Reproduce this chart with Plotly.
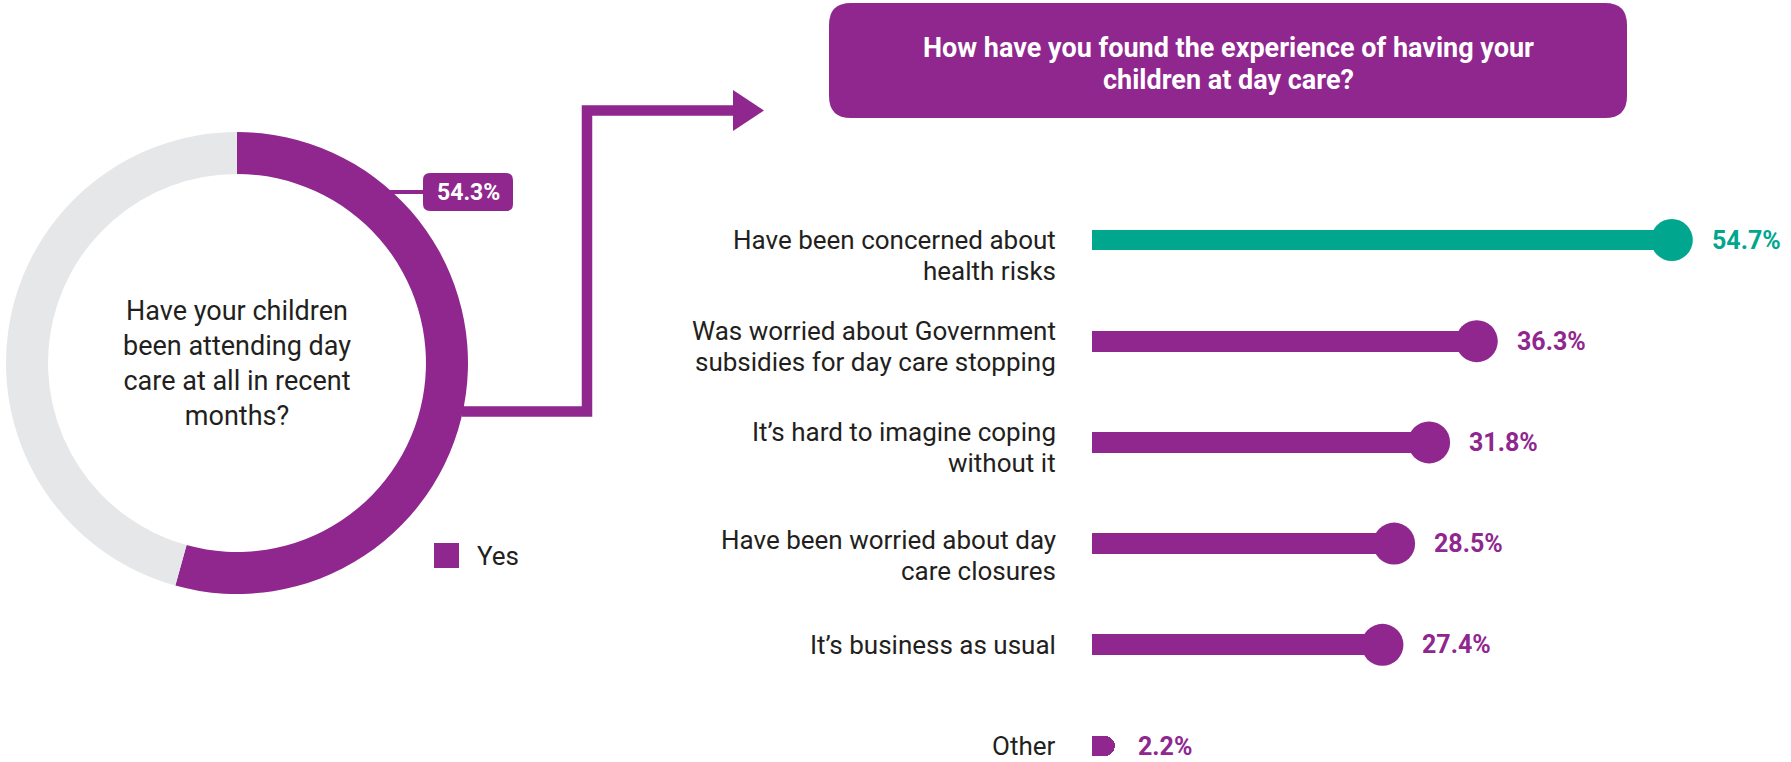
import plotly.graph_objects as go

W, H = 1791, 762

# Donut: have the children been attending day care?
attend_labels = ["Yes", "No"]
attend_values = [54.3, 45.7]
donut_question = "Have your children<br>been attending day<br>care at all in recent<br>months?"

# Follow-up question asked of those who answered "Yes"
followup_title = "How have you found the experience of having your<br>children at day care?"
experience_labels = [
    "Have been concerned about<br>health risks",
    "Was worried about Government<br>subsidies for day care stopping",
    "It’s hard to imagine coping<br>without it",
    "Have been worried about day<br>care closures",
    "It’s business as usual",
    "Other",
]
experience_values = [54.7, 36.3, 31.8, 28.5, 27.4, 2.2]

PURPLE = "#8f278f"
TEAL = "#00a78e"
GREY = "#e6e7e8"
INK = "#231f20"
FONT = "Roboto"

bar_colors = [TEAL if i == 0 else PURPLE for i in range(len(experience_values))]
capped = [lab != "Other" for lab in experience_labels]


def px(x):
    return x / W


def py(y):
    return 1 - y / H


def rounded_rect(x0, y0, x1, y1, r):
    rx, ry = r / W, r / H
    X0, X1, T, B = px(x0), px(x1), py(y0), py(y1)
    return (
        f"M {X0 + rx},{T} L {X1 - rx},{T} Q {X1},{T} {X1},{T - ry} "
        f"L {X1},{B + ry} Q {X1},{B} {X1 - rx},{B} L {X0 + rx},{B} "
        f"Q {X0},{B} {X0},{B + ry} L {X0},{T - ry} Q {X0},{T} {X0 + rx},{T} Z"
    )


def paper_text(x, y, text, size, color, weight=400, xanchor="center"):
    return dict(
        x=px(x), y=py(y), xref="paper", yref="paper", text=text,
        xanchor=xanchor, yanchor="middle", align="center", showarrow=False,
        font=dict(family=FONT, size=size, color=color, weight=weight),
    )


fig = go.Figure()

# Donut chart
fig.add_trace(go.Pie(
    labels=attend_labels,
    values=attend_values,
    hole=0.818,
    sort=False,
    direction="clockwise",
    rotation=0,
    marker=dict(colors=[PURPLE, GREY], line=dict(width=0)),
    textinfo="none",
    hoverinfo="skip",
    showlegend=False,
    domain=dict(x=[px(6), px(468)], y=[py(594), py(132)]),
))

# Lollipop bars
fig.add_trace(go.Bar(
    x=experience_values,
    y=experience_labels,
    orientation="h",
    width=0.207,
    marker=dict(color=bar_colors, line=dict(width=0), cornerradius=10),
    hoverinfo="skip",
    showlegend=False,
))
fig.add_trace(go.Scatter(
    x=[v for v, c in zip(experience_values, capped) if c],
    y=[l for l, c in zip(experience_labels, capped) if c],
    mode="markers",
    marker=dict(size=42, color=[col for col, c in zip(bar_colors, capped) if c],
                line=dict(width=0)),
    hoverinfo="skip",
    showlegend=False,
))

annotations = []
shapes = []

# Question inside the donut
annotations.append(paper_text(237, 363, donut_question, 27, INK))

# Value badge for the "Yes" share
shapes.append(dict(type="line", xref="paper", yref="paper",
                   x0=px(385), y0=py(192), x1=px(425), y1=py(192),
                   line=dict(color=PURPLE, width=4)))
shapes.append(dict(type="path", xref="paper", yref="paper",
                   path=rounded_rect(423, 173, 513, 211, 7),
                   fillcolor=PURPLE, line=dict(width=0)))
annotations.append(paper_text(468, 192, f"{attend_values[0]}%", 23, "white", 700))

# Legend swatch
shapes.append(dict(type="rect", xref="paper", yref="paper",
                   x0=px(434), y0=py(543), x1=px(459), y1=py(568),
                   fillcolor=PURPLE, line=dict(width=0)))
annotations.append(paper_text(475, 556, attend_labels[0], 26, INK, xanchor="left"))

# Connector arrow from the donut to the follow-up question
shapes.append(dict(type="path", xref="paper", yref="paper",
                   path=(f"M {px(462)},{py(411.5)} L {px(587)},{py(411.5)} "
                         f"L {px(587)},{py(110.5)} L {px(735)},{py(110.5)}"),
                   line=dict(color=PURPLE, width=10.5)))
shapes.append(dict(type="path", xref="paper", yref="paper",
                   path=(f"M {px(733)},{py(90)} L {px(764)},{py(110.5)} "
                         f"L {px(733)},{py(131)} Z"),
                   fillcolor=PURPLE, line=dict(width=0)))

# Follow-up question header, one line at a time
shapes.append(dict(type="path", xref="paper", yref="paper",
                   path=rounded_rect(829, 3, 1627, 118, 22),
                   fillcolor=PURPLE, line=dict(width=0)))
for j, line in enumerate(followup_title.split("<br>")):
    annotations.append(paper_text(1228, 48 + 32 * j, line, 27, "white", 700))

# Category labels, one line at a time, right-aligned to the bar origin
first_line_shift = [0, -10, -10, -4, 0, 0]
LINE_GAP = 31
for i, lab in enumerate(experience_labels):
    for j, line in enumerate(lab.split("<br>")):
        annotations.append(dict(
            x=0, y=lab, xref="x", yref="y", xanchor="right", yanchor="middle",
            xshift=-34, yshift=-(first_line_shift[i] + LINE_GAP * j),
            text=line, showarrow=False,
            font=dict(family=FONT, size=26, color=INK),
        ))

# Value labels
for lab, val, col, cap in zip(experience_labels, experience_values, bar_colors, capped):
    annotations.append(dict(
        x=val, y=lab, xref="x", yref="y", xanchor="left", yanchor="middle",
        xshift=38 if cap else 21, text=f"{val}%", showarrow=False,
        font=dict(family=FONT, size=25, color=col, weight=700),
    ))

PX_PER_PCT = 10.6
ROW_PX = 101.2
FIRST_ROW_PX = 240

fig.update_layout(
    width=W, height=H,
    margin=dict(l=0, r=0, t=0, b=0),
    paper_bgcolor="white", plot_bgcolor="white",
    xaxis=dict(domain=[px(1092), 1], range=[0, (W - 1092) / PX_PER_PCT],
               visible=False, fixedrange=True),
    yaxis=dict(domain=[0, 1], type="category",
               categoryorder="array", categoryarray=experience_labels,
               range=[(H - FIRST_ROW_PX) / ROW_PX, -FIRST_ROW_PX / ROW_PX],
               visible=False, fixedrange=True),
    shapes=shapes,
    annotations=annotations,
    hovermode=False,
    bargap=0,
)

fig.write_html("out.html")
